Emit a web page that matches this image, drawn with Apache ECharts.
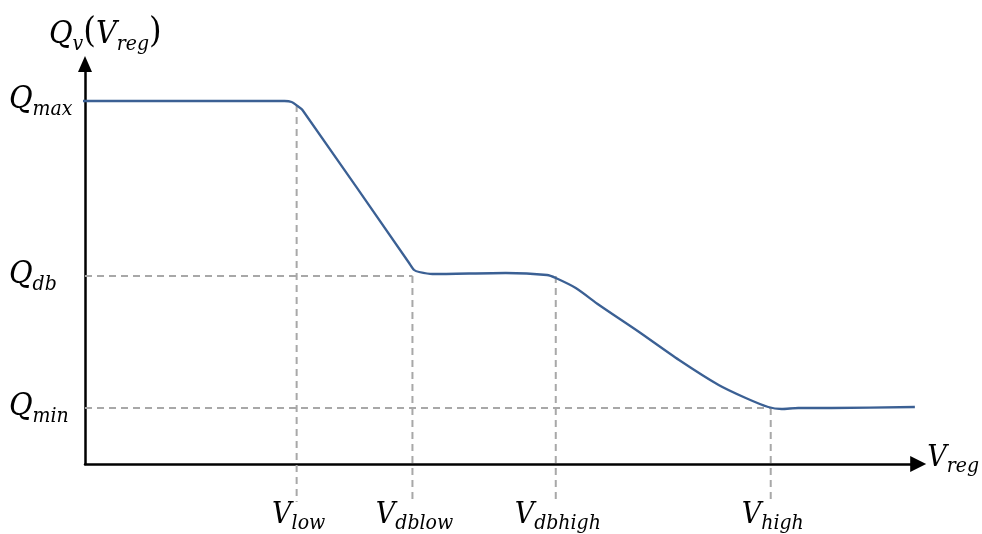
<!DOCTYPE html>
<html>
<head>
<meta charset="utf-8">
<script src="https://cdn.jsdelivr.net/npm/echarts@6/dist/echarts.min.js"></script>
<style>
  html, body { margin: 0; padding: 0; background: #ffffff; }
  #chart { width: 982px; height: 534px; }
</style>
</head>
<body>
<div id="chart"></div>
<script>
// Volt-var characteristic Q_v(V_reg); both axes are normalised to 0..100.

// Voltage break points (x) and their subscript names
const vNames = ['low', 'dblow', 'dbhigh', 'high'];
const vValues = [25.4, 39.3, 56.5, 82.3];

// Reactive power levels (y) and their subscript names
const qNames = ['min', 'db', 'max'];
const qValues = [14, 47, 90.75];

// Characteristic curve samples
const curveX = [-0.9, 0, 23.95, 24.8, 25.5, 26.1, 38.9, 39.5, 40.1, 41.7, 50.5, 55.45, 56.5, 58.9, 61.7, 66.5, 71.3, 76.05, 79.3, 82.0, 83.6, 85.6, 89.6, 99.6];
const curveY = [90.75, 90.75, 90.75, 90.5, 89.5, 88.5, 50.25, 48.5, 48, 47.5, 47.75, 47.25, 46.5, 44, 39.75, 33, 26, 19.75, 16.5, 14.25, 13.75, 14, 14, 14.25];

// Where each vertical guide meets the curve, and how far below the axis it runs
const vGuideTop = [89.75, 47, 47, 14];
const guideBottom = -9.5;

const FONT = '"DejaVu Serif Condensed", "DejaVu Serif", serif';

const base = { fontFamily: FONT, fontStyle: 'italic', fontWeight: 'normal', color: '#000', verticalAlign: 'top' };
const mathRich = {
  m: Object.assign({}, base, { fontSize: 30, lineHeight: 32 }),
  s: Object.assign({}, base, { fontSize: 21, lineHeight: 24, padding: [13, 0, 0, 0] }),
  M: Object.assign({}, base, { fontSize: 32, lineHeight: 34 }),
  S: Object.assign({}, base, { fontSize: 21, lineHeight: 24, padding: [15, 0, 0, 0] }),
  p: Object.assign({}, base, { fontStyle: 'normal', fontSize: 36, lineHeight: 40, padding: [-4, 0, 0, 0] })
};

function nameFor(values, names, v) {
  let best = 0;
  values.forEach((x, i) => { if (Math.abs(x - v) < Math.abs(values[best] - v)) best = i; });
  return names[best];
}

const guideStyle = { color: '#a8a8a8', width: 2, type: [7, 5] };

const series = [];

// Horizontal guides from the Q axis to the break point
[[1, 1], [0, 3]].forEach(([qi, vi]) => {
  series.push({
    type: 'line', silent: true, showSymbol: false, clip: false,
    lineStyle: guideStyle,
    data: [[0, qValues[qi]], [vValues[vi], qValues[qi]]]
  });
});

// Vertical guides from the curve down past the V axis
vValues.forEach((v, i) => {
  series.push({
    type: 'line', silent: true, showSymbol: false, clip: false,
    lineStyle: guideStyle,
    data: [[v, vGuideTop[i]], [v, guideBottom]]
  });
});

// The characteristic itself
series.push({
  type: 'line', silent: true, showSymbol: false, clip: false,
  smooth: 0.25,
  lineStyle: { color: '#3b6094', width: 2.3 },
  data: curveX.map((x, i) => [x, curveY[i]])
});

const option = {
  animation: false,
  backgroundColor: '#ffffff',
  title: {
    text: '{M|Q}{S|v}{p|(}{M|V}{S|reg}{p|)}',
    left: 44, top: 14,
    textStyle: { fontWeight: 'normal', rich: mathRich }
  },
  grid: { left: 85, right: 62, top: 64, bottom: 70 },
  xAxis: {
    type: 'value', min: 0, max: 100,
    splitLine: { show: false },
    axisTick: { show: false },
    axisLine: {
      lineStyle: { color: '#000', width: 2.5 },
      symbol: ['none', 'triangle'], symbolSize: [16, 16]
    },
    axisLabel: {
      customValues: vValues,
      margin: 36,
      padding: [0, 0, 0, 4],
      formatter: v => '{m|V}{s|' + nameFor(vValues, vNames, v) + '}',
      rich: mathRich
    },
    name: '{m|V}{s|reg}',
    nameLocation: 'end',
    nameGap: 9,
    nameTextStyle: { rich: mathRich, padding: [0, 0, 10, 0] }
  },
  yAxis: {
    type: 'value', min: 0, max: 100,
    splitLine: { show: false },
    axisTick: { show: false },
    axisLine: {
      lineStyle: { color: '#000', width: 2.5 },
      symbol: ['none', 'triangle'], symbolSize: [14, 16]
    },
    axisLabel: {
      customValues: qValues,
      margin: 76,
      align: 'left',
      formatter: v => '{M|Q}{S|' + nameFor(qValues, qNames, v) + '}',
      rich: mathRich
    }
  },
  series: series
};

const chart = echarts.init(document.getElementById('chart'), null, { renderer: 'canvas' });
chart.setOption(option);
</script>
</body>
</html>
